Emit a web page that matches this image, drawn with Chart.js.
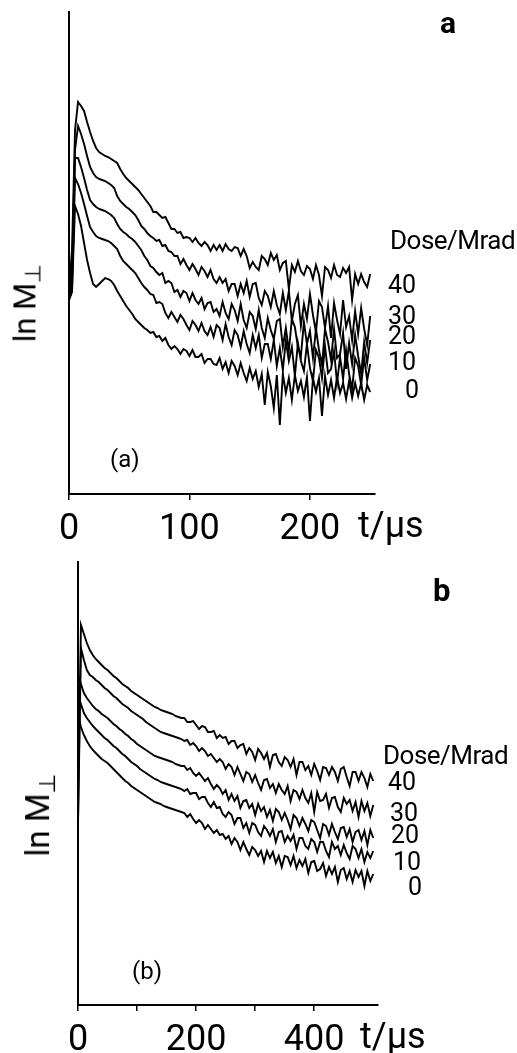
<!DOCTYPE html>
<html>
<head>
<meta charset="utf-8">
<script src="https://cdn.jsdelivr.net/npm/chart.js@4.4.1/dist/chart.umd.min.js"></script>
<style>
  body { margin: 0; background: #fff; }
  #wrap { position: relative; width: 517px; height: 1053px; font-family: Roboto, sans-serif; color: #000; }
  canvas { position: absolute; left: 0; }
  .lbl { position: absolute; line-height: 1; white-space: nowrap; }
  .ylab { position: absolute; line-height: 1; white-space: nowrap; transform: translate(-50%, -50%) rotate(-90deg); }
  .ylab sub { font-size: 0.7em; vertical-align: -0.25em; }
</style>
</head>
<body>
<div id="wrap">
  <canvas id="chartA" width="517" height="545" style="top:0"></canvas>
  <canvas id="chartB" width="517" height="508" style="top:545px"></canvas>

  <div class="lbl" style="left:440px;top:8px;font-size:30px;font-weight:bold">a</div>
  <div class="lbl" style="left:390px;top:227px;font-size:26px;letter-spacing:-0.5px">Dose/Mrad</div>
  <div class="lbl" style="left:388px;top:272px;font-size:25px">40</div>
  <div class="lbl" style="left:388px;top:303px;font-size:25px">30</div>
  <div class="lbl" style="left:388px;top:323px;font-size:25px">20</div>
  <div class="lbl" style="left:388px;top:349px;font-size:25px">10</div>
  <div class="lbl" style="left:405px;top:377px;font-size:25px">0</div>
  <div class="lbl" style="left:110px;top:447px;font-size:24px">(a)</div>
  <div class="lbl" style="left:358px;top:507px;font-size:36px">t/μs</div>
  <div class="ylab" style="left:27px;top:303px;font-size:31px">ln M<sub>⊥</sub></div>

  <div class="lbl" style="left:433px;top:575px;font-size:31px;font-weight:bold">b</div>
  <div class="lbl" style="left:383px;top:742px;font-size:26px;letter-spacing:-0.5px">Dose/Mrad</div>
  <div class="lbl" style="left:388px;top:769px;font-size:25px">40</div>
  <div class="lbl" style="left:390px;top:800px;font-size:25px">30</div>
  <div class="lbl" style="left:391px;top:822px;font-size:25px">20</div>
  <div class="lbl" style="left:393px;top:849px;font-size:25px">10</div>
  <div class="lbl" style="left:408px;top:874px;font-size:25px">0</div>
  <div class="lbl" style="left:132px;top:959px;font-size:24px">(b)</div>
  <div class="lbl" style="left:360px;top:1018px;font-size:36px">t/μs</div>
  <div class="ylab" style="left:40px;top:815px;font-size:33px">ln M<sub>⊥</sub></div>
</div>

<script>
// panel a: time (µs) and ln M (arbitrary units) for each dose
const tA = [0,2.5,5,7.5,10,12.5,15,17.5,20,22.5,25,27.5,30,32.5,35,37.5,40,42.5,45,47.5,
  50,52.5,55,57.5,60,62.5,65,67.5,70,72.5,75,77.5,80,82.5,85,87.5,90,92.5,95,97.5,
  100,102.5,105,107.5,110,112.5,115,117.5,120,122.5,125,127.5,130,132.5,135,137.5,140,142.5,145,147.5,
  150,152.5,155,157.5,160,162.5,165,167.5,170,172.5,175,177.5,180,182.5,185,187.5,190,192.5,195,197.5,
  200,202.5,205,207.5,210,212.5,215,217.5,220,222.5,225,227.5,230,232.5,235,237.5,240,242.5,245,247.5,250];
const ticksA = { 0: '0', 100: '100', 200: '200' };

const a40 = [2.04,2.44,3.64,3.92,3.88,3.83,3.72,3.62,3.53,3.46,
  3.42,3.40,3.38,3.37,3.35,3.33,3.31,3.25,3.20,3.16,
  3.13,3.10,3.07,3.04,3.00,2.96,2.92,2.88,2.82,2.82,
  2.79,2.76,2.77,2.71,2.65,2.65,2.61,2.62,2.56,2.57,
  2.56,2.52,2.56,2.51,2.48,2.52,2.49,2.43,2.49,2.44,
  2.49,2.43,2.50,2.45,2.43,2.47,2.46,2.38,2.45,2.38,
  2.26,2.32,2.27,2.24,2.38,2.35,2.29,2.41,2.34,2.39,
  2.24,2.31,2.33,2.05,2.29,2.22,2.33,2.23,2.19,2.28,
  2.25,2.15,2.29,2.19,1.98,2.27,2.24,2.16,2.29,2.19,
  2.17,2.26,2.21,2.27,1.94,2.20,2.10,2.20,2.12,2.07,
  2.20];
const a30 = [1.99,2.24,3.44,3.68,3.60,3.50,3.38,3.27,3.21,3.17,
  3.15,3.14,3.13,3.11,3.09,3.06,2.98,2.93,2.90,2.87,
  2.85,2.82,2.79,2.74,2.68,2.65,2.61,2.58,2.56,2.53,
  2.54,2.48,2.49,2.43,2.42,2.38,2.38,2.30,2.35,2.29,
  2.24,2.30,2.25,2.19,2.27,2.23,2.17,2.24,2.15,2.11,
  2.17,2.11,2.15,2.03,2.10,2.10,1.98,2.10,2.01,2.13,
  1.97,2.10,2.11,1.96,1.89,2.03,1.98,1.87,2.03,1.89,
  1.80,2.01,1.84,2.03,1.73,1.90,1.99,1.68,1.90,1.75,
  2.00,1.79,1.62,1.93,1.87,1.66,1.88,1.56,1.91,1.74,
  1.60,1.94,1.67,1.78,1.54,1.83,1.60,1.86,1.65,1.49,
  1.78];
const a20 = [1.96,2.14,3.36,3.36,3.27,3.16,3.04,2.94,2.90,2.87,
  2.85,2.84,2.83,2.81,2.79,2.76,2.70,2.65,2.62,2.60,
  2.57,2.55,2.52,2.48,2.44,2.38,2.34,2.28,2.26,2.22,
  2.19,2.21,2.11,2.13,2.11,2.02,2.04,1.97,2.03,2.01,
  1.93,2.01,1.94,1.90,1.96,1.85,1.91,1.92,1.82,1.85,
  1.78,1.92,1.81,1.75,1.90,1.84,1.73,1.90,1.74,1.66,
  1.82,1.78,1.65,1.84,1.66,1.56,1.76,1.64,1.55,1.73,
  1.75,1.47,1.66,1.43,1.75,1.67,1.47,1.38,1.72,1.50,
  1.63,1.36,1.65,1.44,1.29,1.65,1.52,1.34,1.65,1.36,
  1.40,1.61,1.25,1.51,1.30,1.59,1.38,1.20,1.52,1.31,
  1.54];
const a10 = [1.94,2.04,3.16,3.10,3.01,2.90,2.78,2.67,2.62,2.58,
  2.56,2.55,2.54,2.53,2.51,2.48,2.45,2.38,2.33,2.30,
  2.27,2.24,2.21,2.16,2.11,2.07,2.04,2.00,1.99,1.91,
  1.92,1.90,1.81,1.76,1.82,1.77,1.72,1.79,1.75,1.69,
  1.64,1.73,1.69,1.63,1.71,1.63,1.59,1.67,1.57,1.69,
  1.66,1.54,1.70,1.57,1.49,1.64,1.59,1.47,1.63,1.50,
  1.41,1.59,1.46,1.59,1.36,1.50,1.50,1.35,1.54,1.28,
  1.46,1.24,1.53,1.33,1.47,1.18,1.51,1.33,1.23,1.50,
  1.26,1.13,1.44,1.36,1.16,1.48,1.21,1.25,1.43,1.11,
  1.37,1.15,1.44,1.20,1.05,1.36,1.28,1.09,1.36,1.14,
  1.30];
const a0 = [1.94,2.02,2.88,2.80,2.68,2.51,2.34,2.21,2.10,2.07,
  2.10,2.13,2.16,2.15,2.13,2.09,2.03,1.98,1.93,1.88,
  1.84,1.80,1.75,1.72,1.69,1.66,1.64,1.61,1.62,1.57,
  1.58,1.53,1.56,1.49,1.45,1.48,1.45,1.40,1.45,1.43,
  1.38,1.44,1.37,1.37,1.40,1.31,1.35,1.35,1.30,1.29,
  1.36,1.25,1.32,1.21,1.33,1.28,1.19,1.31,1.21,1.13,
  1.26,1.15,1.23,1.07,1.20,0.89,1.22,1.08,0.86,1.19,
  0.69,1.20,1.01,1.16,0.94,1.19,1.03,1.13,0.97,1.17,
  0.73,1.16,1.02,1.16,0.78,1.18,0.99,1.14,0.96,1.17,
  1.01,1.11,0.95,1.13,0.96,1.11,0.98,1.11,0.94,1.09,
  1.02];

// panel b
const tB = [0,5,10,15,20,25,30,35,40,45,50,55,60,65,70,75,80,85,90,95,
  100,105,110,115,120,125,130,135,140,145,150,155,160,165,170,175,180,185,190,195,
  200,205,210,215,220,225,230,235,240,245,250,255,260,265,270,275,280,285,290,295,
  300,305,310,315,320,325,330,335,340,345,350,355,360,365,370,375,380,385,390,395,
  400,405,410,415,420,425,430,435,440,445,450,455,460,465,470,475,480,485,490,495,500];
const ticksB = { 0: '0', 200: '200', 400: '400' };

const b40 = [1.85,3.80,3.71,3.62,3.55,3.50,3.46,3.43,3.40,3.37,
  3.35,3.32,3.29,3.27,3.24,3.21,3.19,3.17,3.14,3.12,
  3.10,3.08,3.06,3.04,3.02,3.00,2.98,2.97,2.95,2.94,
  2.93,2.92,2.91,2.89,2.88,2.87,2.87,2.83,2.83,2.84,
  2.80,2.76,2.79,2.78,2.73,2.73,2.74,2.67,2.70,2.67,
  2.68,2.61,2.64,2.64,2.57,2.60,2.61,2.51,2.57,2.53,
  2.45,2.56,2.52,2.46,2.52,2.38,2.50,2.51,2.43,2.39,
  2.48,2.45,2.38,2.46,2.30,2.43,2.43,2.35,2.39,2.30,
  2.41,2.34,2.25,2.38,2.37,2.30,2.38,2.33,2.24,2.36,
  2.38,2.28,2.19,2.33,2.33,2.24,2.33,2.27,2.18,2.31,
  2.24];
const b30 = [1.80,3.57,3.45,3.35,3.30,3.28,3.25,3.23,3.20,3.17,
  3.15,3.12,3.09,3.07,3.04,3.01,2.99,2.97,2.94,2.92,
  2.90,2.88,2.86,2.83,2.81,2.79,2.77,2.75,2.73,2.72,
  2.71,2.70,2.69,2.68,2.67,2.66,2.64,2.65,2.60,2.62,
  2.59,2.54,2.57,2.54,2.49,2.51,2.47,2.43,2.46,2.43,
  2.36,2.41,2.38,2.30,2.38,2.31,2.24,2.33,2.31,2.23,
  2.30,2.22,2.15,2.25,2.26,2.17,2.21,2.12,2.21,2.15,
  2.11,2.19,2.04,2.15,2.13,2.06,2.15,2.07,2.02,2.12,
  1.93,2.13,2.04,2.05,2.11,1.97,2.07,2.08,1.98,1.93,
  2.07,2.01,2.05,1.94,2.03,1.88,2.04,1.94,2.02,1.89,
  2.00];
const b20 = [3.30,3.21,3.12,3.07,3.03,2.99,2.96,2.94,2.91,2.89,
  2.87,2.84,2.81,2.79,2.76,2.74,2.71,2.69,2.66,2.64,
  2.61,2.59,2.57,2.55,2.53,2.51,2.49,2.48,2.47,2.46,
  2.45,2.44,2.43,2.41,2.40,2.39,2.39,2.35,2.37,2.32,
  2.29,2.32,2.28,2.24,2.27,2.21,2.16,2.20,2.17,2.11,
  2.15,2.05,2.11,2.04,2.09,1.97,2.04,2.05,1.97,2.01,
  1.90,2.01,1.94,1.98,1.88,1.95,1.84,1.96,1.93,1.85,
  1.92,1.85,1.76,1.90,1.87,1.79,1.87,1.81,1.74,1.85,
  1.83,1.75,1.67,1.81,1.79,1.70,1.81,1.73,1.66,1.77,
  1.78,1.68,1.76,1.63,1.73,1.75,1.65,1.74,1.60,1.75,
  1.67];
const b10 = [3.10,3.01,2.92,2.87,2.83,2.79,2.76,2.73,2.70,2.67,
  2.65,2.62,2.59,2.57,2.54,2.51,2.49,2.46,2.43,2.41,
  2.39,2.36,2.34,2.32,2.30,2.28,2.26,2.25,2.23,2.22,
  2.21,2.20,2.19,2.18,2.17,2.16,2.14,2.16,2.11,2.12,
  2.12,2.06,2.08,2.08,2.02,1.98,2.03,1.97,1.98,1.91,
  1.88,1.93,1.90,1.81,1.87,1.87,1.77,1.82,1.72,1.82,
  1.80,1.73,1.69,1.79,1.75,1.69,1.76,1.63,1.73,1.74,
  1.63,1.69,1.64,1.70,1.56,1.67,1.67,1.59,1.56,1.66,
  1.63,1.53,1.63,1.63,1.54,1.48,1.63,1.56,1.59,1.50,
  1.60,1.52,1.46,1.59,1.56,1.47,1.56,1.43,1.53,1.47,
  1.54];
const b0 = [2.90,2.78,2.70,2.64,2.59,2.55,2.52,2.49,2.46,2.44,
  2.42,2.39,2.36,2.33,2.30,2.27,2.24,2.22,2.19,2.17,
  2.15,2.13,2.11,2.09,2.07,2.05,2.03,2.02,2.01,1.99,
  1.98,1.97,1.96,1.95,1.94,1.93,1.92,1.88,1.91,1.86,
  1.82,1.85,1.82,1.76,1.80,1.76,1.72,1.75,1.70,1.71,
  1.66,1.69,1.61,1.67,1.63,1.55,1.63,1.56,1.50,1.58,
  1.55,1.49,1.54,1.43,1.54,1.47,1.53,1.42,1.49,1.38,
  1.49,1.48,1.40,1.49,1.37,1.45,1.39,1.46,1.32,1.43,
  1.44,1.34,1.36,1.42,1.29,1.38,1.31,1.38,1.23,1.35,
  1.37,1.26,1.34,1.23,1.35,1.28,1.34,1.19,1.34,1.24,
  1.31];

const doses = ['40', '30', '20', '10', '0'];

function toPoints(ts, vals) {
  return ts.map((t, i) => ({ x: t, y: vals[i] }));
}

function makeDatasets(ts, series) {
  return series.map((vals, i) => ({
    label: doses[i] + ' Mrad',
    data: toPoints(ts, vals),
    borderColor: '#000',
    borderWidth: 1.9,
    pointRadius: 0,
    tension: 0,
    fill: false
  }));
}

function makeChart(id, ts, series, opts) {
  const ctx = document.getElementById(id).getContext('2d');
  return new Chart(ctx, {
    type: 'line',
    data: { datasets: makeDatasets(ts, series) },
    options: {
      responsive: false,
      animation: false,
      layout: { padding: { left: 0, top: opts.top, right: opts.right, bottom: 0 } },
      plugins: { legend: { display: false }, tooltip: { enabled: false } },
      scales: {
        x: {
          type: 'linear',
          min: 0,
          max: opts.xmax,
          border: { display: true, color: '#000', width: 2 },
          grid: { display: true, drawOnChartArea: false, drawTicks: true, tickLength: 6, color: '#000', lineWidth: 1.5 },
          afterBuildTicks: s => { s.ticks = opts.tickVals.map(v => ({ value: v })); },
          ticks: {
            autoSkip: false,
            maxRotation: 0,
            padding: 8,
            color: '#000',
            font: { family: 'Roboto', size: 36 },
            callback: v => opts.tickText[v] || ''
          },
          afterFit: s => { s.height = opts.xh; }
        },
        y: {
          min: 0,
          max: opts.ymax,
          border: { display: true, color: '#000', width: 2 },
          grid: { display: true, drawOnChartArea: false, drawTicks: false },
          ticks: { display: false },
          afterFit: s => { s.width = opts.left; }
        }
      }
    }
  });
}

makeChart('chartA', tA, [a40, a30, a20, a10, a0], {
  top: 12, right: 142, left: 69, xh: 51, xmax: 254, ymax: 4.82,
  tickVals: [0, 100, 200], tickText: ticksA
});

makeChart('chartB', tB, [b40, b30, b20, b10, b0], {
  top: 17, right: 139, left: 78, xh: 48, xmax: 508, ymax: 4.43,
  tickVals: [0, 100, 200, 300, 400], tickText: ticksB
});
</script>
</body>
</html>
